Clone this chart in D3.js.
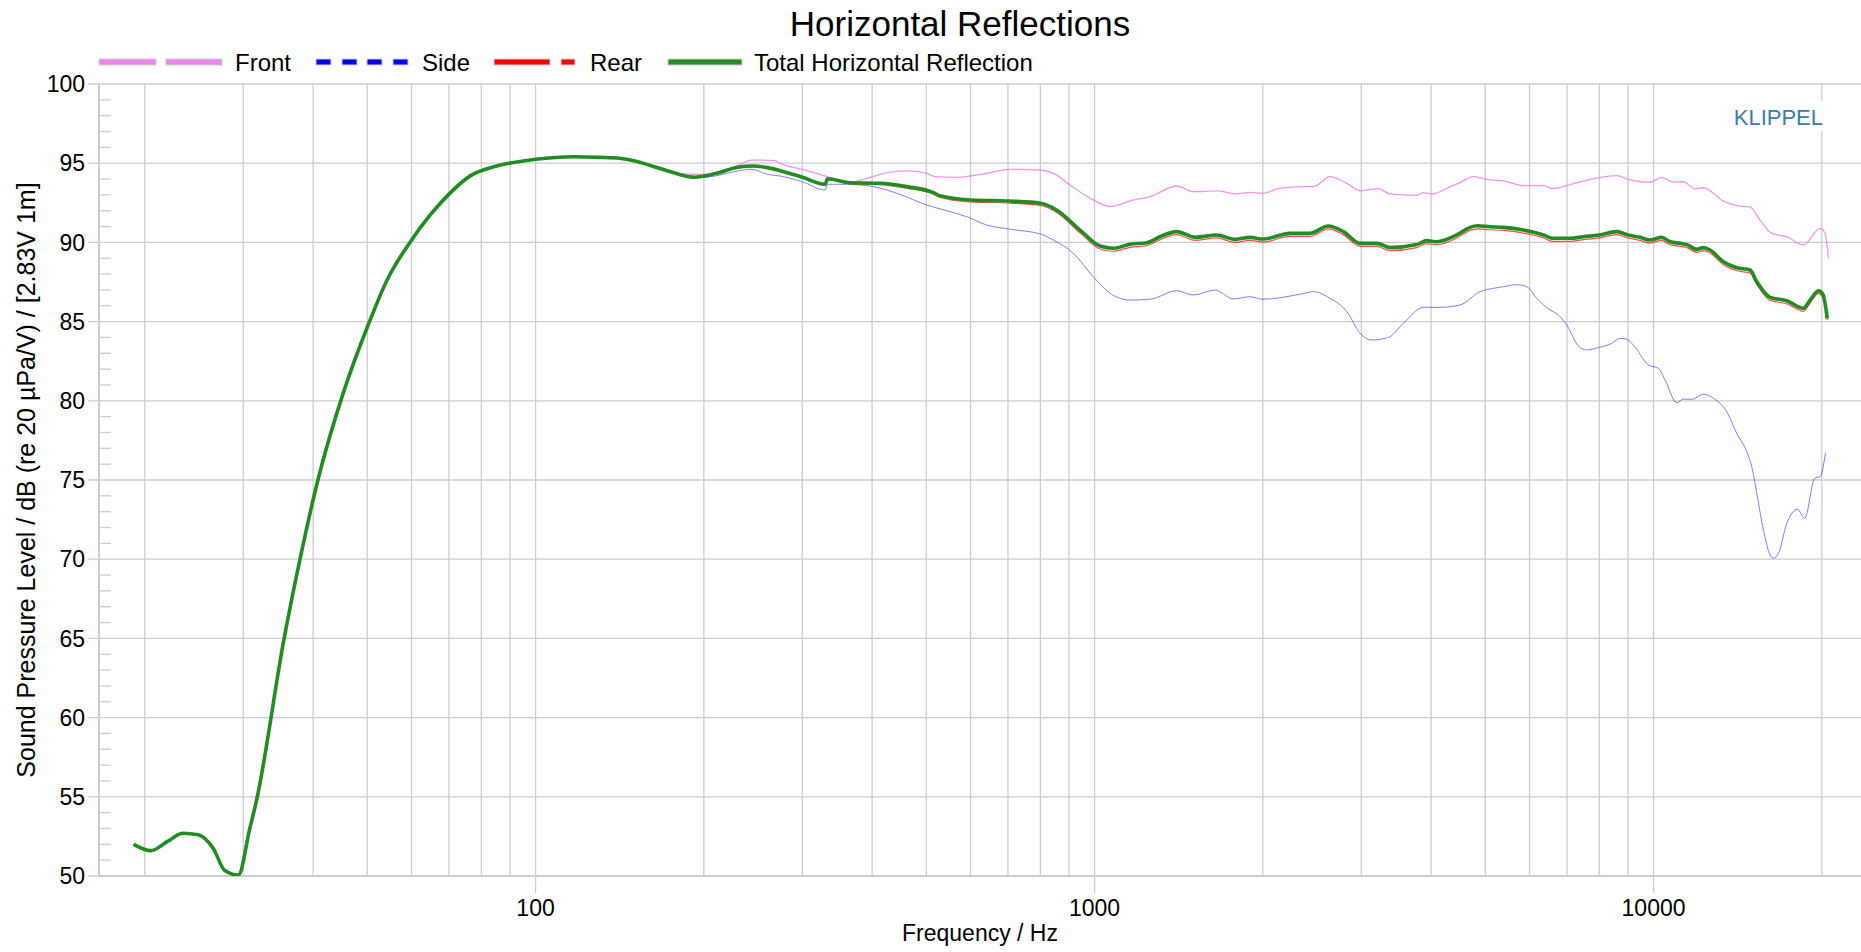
<!DOCTYPE html>
<html>
<head>
<meta charset="utf-8">
<title>Horizontal Reflections</title>
<script src="https://cdn.jsdelivr.net/npm/d3@7"></script>
<style>
    html, body { margin: 0; padding: 0; background: #fff; }
    svg { display: block; font-family: 'Liberation Sans', Arial, sans-serif; }
</style>
</head>
<body>
<svg id="chart" width="1861" height="952"></svg>
<script>
// ============================================================
// DATA  ([frequency Hz, level dB])
// ============================================================

const xLimits = [16.56, 23500];
const yLimits = [50, 100];
const xTickLabels = [100, 1000, 10000];
const yTickLabels = [50, 55, 60, 65, 70, 75, 80, 85, 90, 95, 100];
const seriesNames = ['Front', 'Side', 'Rear', 'Total Horizontal Reflection'];

// below ~175 Hz all four curves sit on top of each other
const lowShared = [
    [19.1, 52.0], [20.5, 51.6], [22.0, 52.2], [23.4, 52.7], [24.9, 52.6],
    [26.5, 51.75], [27.8, 50.35], [29.4, 50.06], [30.8, 52.95], [31.7, 54.8],
    [35.5, 65.0], [37.9, 70.0], [40.8, 75.0], [45.3, 80.5], [50.2, 84.8],
    [54.2, 87.6], [59.6, 90.0], [64.7, 91.7], [69.8, 93.0], [76.4, 94.2],
    [85.2, 94.82], [100, 95.25], [116.8, 95.41], [130.4, 95.37],
    [141.4, 95.31], [150, 95.16], [163, 94.78], [175, 94.45]
];

const frontHigh = [
    [190, 94.3], [200, 94.3], [231, 94.89], [243.6, 95.2], [268, 95.16], [274, 94.99],
    [300, 94.61], [330, 94.19], [360.5, 93.77], [386, 93.98], [430.6, 94.43], [461, 94.51],
    [501, 94.36], [519, 94.15], [567, 94.11], [641, 94.36], [706, 94.61], [800, 94.57],
    [844, 94.36], [904, 93.62], [995, 92.68], [1066, 92.26], [1174, 92.68], [1257, 92.89],
    [1403, 93.56], [1502, 93.2], [1654, 93.25], [1796, 93.06], [1897, 93.16], [2000, 93.1],
    [2147, 93.42], [2340, 93.52], [2463, 93.52], [2638, 94.15], [2826, 93.73], [2986, 93.26],
    [3219, 93.39], [3378, 93.06], [3771, 92.97], [3874, 93.14], [4030, 93.06], [4266, 93.42],
    [4506, 93.77], [4761, 94.15], [5030, 93.98], [5387, 93.88], [5849, 93.58], [6353, 93.58],
    [6588, 93.39], [6897, 93.52], [7289, 93.77], [8000, 94.09], [8594, 94.21], [9000, 93.98],
    [9835, 93.79], [10344, 94.11], [10849, 93.81], [11306, 93.83], [11866, 93.37], [12278, 93.45],
    [13333, 92.61], [14085, 92.32], [14880, 92.22], [15508, 91.41], [16274, 90.57], [17311, 90.36],
    [18536, 89.84], [19860, 90.89], [20270, 90.57], [20550, 89.0]
];

const sideHigh = [
    [190, 94.1], [200, 94.11], [243.6, 94.61], [260, 94.3], [274, 94.19], [300, 93.83],
    [329.6, 93.31], [333, 93.67], [360, 93.67], [402, 93.52], [443, 93.1], [501, 92.36],
    [544, 92.0], [591, 91.62], [641, 91.1], [706, 90.83], [800, 90.53], [844, 90.15],
    [916.5, 89.31], [995, 87.83], [1066, 86.79], [1157, 86.36], [1257, 86.41], [1403, 86.95],
    [1502, 86.68], [1643, 86.99], [1771, 86.43], [1897, 86.57], [2000, 86.41], [2340, 86.74],
    [2463, 86.89], [2638, 86.47], [2826, 85.63], [2986, 84.26], [3133, 83.84], [3355, 84.0],
    [3567, 84.89], [3874, 85.9], [4150, 85.9], [4506, 86.05], [4894, 86.89], [5170, 87.1],
    [5387, 87.2], [5691, 87.33], [5934, 87.2], [6181, 86.47], [6529, 85.73], [6700, 85.52],
    [6993, 84.79], [7335, 83.46], [7592, 83.21], [8000, 83.38], [8360, 83.57], [8712, 83.94],
    [8933, 83.9], [9202, 83.52], [9788, 82.26], [10200, 82.05], [10486, 81.31], [11003, 79.88],
    [11306, 80.11], [11704, 80.09], [12278, 80.41], [12794, 80.16], [13520, 79.31], [14085, 77.95],
    [14679, 76.79], [14987, 75.84], [15298, 74.16], [15723, 71.84], [16163, 70.27], [16384, 70.06],
    [16727, 70.37], [17311, 72.26], [18083, 73.15], [18640, 72.58], [19425, 75.11], [19860, 75.21],
    [20300, 76.7]
];

const rearHigh = [
    [187.8, 94.13], [192, 94.09], [211, 94.33], [230, 94.72], [245, 94.79], [260, 94.69],
    [274, 94.49], [300, 94.07], [329.6, 93.62], [333, 93.96], [365, 93.7], [413, 93.65],
    [461, 93.43], [515, 93.04], [527, 92.86], [600, 92.56], [706, 92.48], [800, 92.33],
    [855, 91.9], [942, 90.6], [1023, 89.58], [1080, 89.44], [1157, 89.69], [1240, 89.79],
    [1310, 90.17], [1403, 90.49], [1513, 90.13], [1654, 90.28], [1784, 90.0], [1897, 90.13],
    [2000, 90.02], [2237, 90.38], [2430, 90.38], [2620, 90.85], [2787, 90.49], [2986, 89.75],
    [3198, 89.75], [3378, 89.48], [3771, 89.67], [3929, 89.92], [4094, 89.85], [4446, 90.28],
    [4696, 90.76], [4840, 90.86], [5100, 90.8], [5387, 90.76], [5849, 90.59], [6353, 90.28],
    [6588, 90.07], [7089, 90.07], [7489, 90.17], [8000, 90.28], [8594, 90.49], [9000, 90.28],
    [9458, 90.13], [9835, 89.96], [10344, 90.13], [10705, 89.85], [11154, 89.75], [11467, 89.67],
    [11951, 89.37], [12278, 89.48], [12621, 89.33], [13333, 88.59], [14085, 88.21], [14880, 88.07],
    [15298, 87.33], [16163, 86.34], [17311, 86.13], [18536, 85.65], [19054, 86.17], [19730, 86.76],
    [20100, 86.5], [20450, 85.1]
];

const totalHigh = [
    [187.8, 94.15], [192, 94.11], [211, 94.36], [230, 94.75], [245, 94.82], [260, 94.72],
    [274, 94.53], [300, 94.11], [329.6, 93.67], [333, 94.02], [365, 93.77], [413, 93.73],
    [461, 93.52], [515, 93.14], [527, 92.97], [600, 92.68], [706, 92.61], [800, 92.47],
    [855, 92.05], [942, 90.78], [1023, 89.77], [1080, 89.63], [1157, 89.88], [1240, 89.98],
    [1310, 90.36], [1403, 90.68], [1513, 90.32], [1654, 90.47], [1784, 90.19], [1897, 90.32],
    [2000, 90.21], [2237, 90.57], [2430, 90.57], [2620, 91.04], [2787, 90.68], [2986, 89.94],
    [3198, 89.94], [3378, 89.67], [3771, 89.86], [3929, 90.11], [4094, 90.04], [4446, 90.47],
    [4696, 90.95], [4840, 91.05], [5100, 90.99], [5387, 90.95], [5849, 90.78], [6353, 90.47],
    [6588, 90.26], [7089, 90.26], [7489, 90.36], [8000, 90.47], [8594, 90.68], [9000, 90.47],
    [9458, 90.32], [9835, 90.15], [10344, 90.32], [10705, 90.04], [11154, 89.94], [11467, 89.86],
    [11951, 89.56], [12278, 89.67], [12621, 89.52], [13333, 88.78], [14085, 88.4], [14880, 88.26],
    [15298, 87.52], [16163, 86.53], [17311, 86.32], [18536, 85.84], [19054, 86.36], [19730, 86.95],
    [20100, 86.7], [20450, 85.2]
];

// ============================================================
// LAYOUT / STYLE
// ============================================================

const plot = { left: 99, right: 1861, top: 84, bottom: 876 };
const gridColor = '#cccccc';

const styles = [
    { color: '#ee82ee', width: 1.3, opacity: 0.85, dashes: [[99, 156], [166, 222]], textX: 235 },
    { color: '#0000ff', width: 1.0, opacity: 0.5, dashes: [[316, 331], [342, 357], [367, 382], [393, 408]], textX: 422 },
    { color: '#ff0000', width: 1.2, opacity: 0.7, dashes: [[494, 550], [561, 575]], textX: 590 },
    { color: '#228b22', width: 3.6, opacity: 1, dashes: [[668, 742]], textX: 754 }
];

const series = [
    lowShared.concat(frontHigh),
    lowShared.concat(sideHigh),
    lowShared.concat(rearHigh),
    lowShared.concat(totalHigh)
];

// ============================================================
// DRAW
// ============================================================

const svg = d3.select('#chart');

const x = d3.scaleLog().domain(xLimits).range([plot.left, plot.right]);
const y = d3.scaleLinear().domain(yLimits).range([plot.bottom, plot.top]);

// vertical grid: every 1..9 x 10^k inside the domain
const xGrid = [];
for (let e = 1; e <= 4; e++) {
    for (let m = 1; m <= 9; m++) {
        const f = m * Math.pow(10, e);
        if (f > xLimits[0] && f < xLimits[1]) xGrid.push(f);
    }
}

const grid = svg.append('g').attr('stroke', gridColor).attr('stroke-width', 1.3);

grid.selectAll('.vgrid')
    .data(xGrid)
    .enter().append('line')
    .attr('x1', d => x(d)).attr('x2', d => x(d))
    .attr('y1', plot.top).attr('y2', plot.bottom);

grid.selectAll('.hgrid')
    .data(yTickLabels)
    .enter().append('line')
    .attr('x1', plot.left - 11).attr('x2', plot.right)
    .attr('y1', d => y(d)).attr('y2', d => y(d));

// minor y ticks every 1 dB, pointing into the plot
grid.selectAll('.minor')
    .data(d3.range(yLimits[0] + 1, yLimits[1]).filter(v => v % 5 !== 0))
    .enter().append('line')
    .attr('x1', plot.left).attr('x2', plot.left + 12)
    .attr('y1', d => y(d)).attr('y2', d => y(d));

// major x ticks below the axis
grid.selectAll('.xmajor')
    .data(xTickLabels)
    .enter().append('line')
    .attr('x1', d => x(d)).attr('x2', d => x(d))
    .attr('y1', plot.bottom).attr('y2', plot.bottom + 17);

// axis lines
grid.append('line')
    .attr('x1', plot.left).attr('x2', plot.left)
    .attr('y1', plot.top).attr('y2', plot.bottom)
    .attr('stroke-width', 2);
grid.append('line')
    .attr('x1', plot.left).attr('x2', plot.right)
    .attr('y1', plot.bottom).attr('y2', plot.bottom)
    .attr('stroke-width', 2);

// tick labels
svg.append('g')
    .selectAll('text')
    .data(yTickLabels)
    .enter().append('text')
    .attr('x', 85)
    .attr('y', d => y(d))
    .attr('dy', '0.36em')
    .attr('text-anchor', 'end')
    .style('font-size', '23px')
    .text(d => d);

svg.append('g')
    .selectAll('text')
    .data(xTickLabels)
    .enter().append('text')
    .attr('x', d => x(d))
    .attr('y', 916)
    .attr('text-anchor', 'middle')
    .style('font-size', '23px')
    .text(d => d);

// KLIPPEL mark
svg.append('rect')
    .attr('x', 1733).attr('y', 101).attr('width', 93).attr('height', 30)
    .attr('fill', '#fff');
svg.append('text')
    .attr('x', 1823).attr('y', 125)
    .attr('text-anchor', 'end')
    .attr('fill', '#3d7bab')
    .style('font-size', '22px')
    .text('KLIPPEL');

// curves
svg.append('clipPath').attr('id', 'plot-clip')
    .append('rect')
    .attr('x', plot.left).attr('y', plot.top)
    .attr('width', plot.right - plot.left).attr('height', plot.bottom - plot.top);

const line = d3.line()
    .x(d => x(d[0]))
    .y(d => y(d[1]))
    .curve(d3.curveMonotoneX);

svg.append('g')
    .attr('clip-path', 'url(#plot-clip)')
    .selectAll('path')
    .data(series)
    .enter().append('path')
    .attr('fill', 'none')
    .attr('stroke', (d, i) => styles[i].color)
    .attr('stroke-width', (d, i) => styles[i].width)
    .attr('stroke-opacity', (d, i) => styles[i].opacity)
    .attr('stroke-linejoin', 'round')
    .attr('d', line);

// legend
const legend = svg.append('g');
seriesNames.forEach((name, i) => {
    const st = styles[i];
    st.dashes.forEach(seg => {
        legend.append('rect')
            .attr('x', seg[0]).attr('y', 59)
            .attr('width', seg[1] - seg[0]).attr('height', 6)
            .attr('fill', st.color)
            .attr('stroke', '#d0d0d0')
            .attr('stroke-width', 1);
    });
    legend.append('text')
        .attr('x', st.textX).attr('y', 70.5)
        .style('font-size', '24px')
        .text(name);
});

// titles
svg.append('text')
    .attr('x', 960).attr('y', 36)
    .attr('text-anchor', 'middle')
    .style('font-size', '35px')
    .text('Horizontal Reflections');

svg.append('text')
    .attr('x', (plot.left + plot.right) / 2).attr('y', 941)
    .attr('text-anchor', 'middle')
    .style('font-size', '23px')
    .text('Frequency / Hz');

svg.append('text')
    .attr('transform', `translate(35, ${(plot.top + plot.bottom) / 2}) rotate(-90)`)
    .attr('text-anchor', 'middle')
    .style('font-size', '25px')
    .text('Sound Pressure Level / dB (re 20 µPa/V) / [2.83V 1m]');
</script>
</body>
</html>
